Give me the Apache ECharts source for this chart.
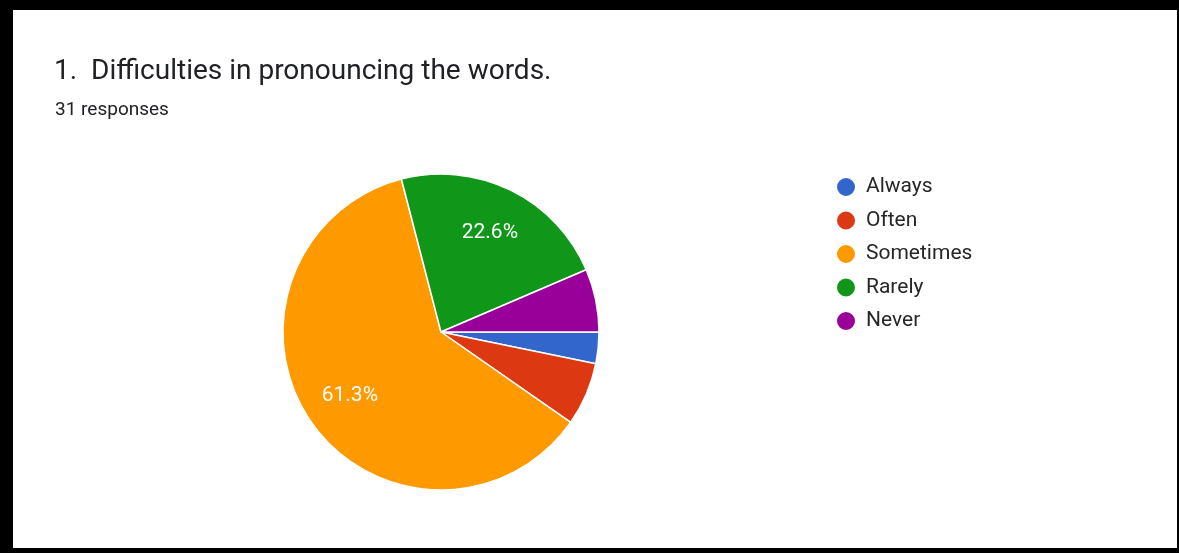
<!DOCTYPE html>
<html>
<head>
<meta charset="utf-8">
<script src="https://cdn.jsdelivr.net/npm/echarts@6/dist/echarts.min.js"></script>
<style>
  html, body { margin: 0; padding: 0; background: #ffffff; }
  #chart { width: 1179px; height: 553px; }
</style>
</head>
<body>
<div id="chart"></div>
<script>
// Survey answers for question 1
const questionTitle = '1.  Difficulties in pronouncing the words.';
const responseNote = '31 responses';
const categories = ['Always', 'Often', 'Sometimes', 'Rarely', 'Never'];
const counts = [1, 2, 19, 7, 2];
const palette = ['#3366cc', '#dc3912', '#ff9900', '#109618', '#990099'];

const pieData = categories.map((name, i) => ({ name, value: counts[i] }));
const fontFamily = 'Roboto, "Noto Sans", Arial, sans-serif';

const chart = echarts.init(document.getElementById('chart'), null, { renderer: 'canvas' });

chart.setOption({
  backgroundColor: '#ffffff',
  color: palette,
  animation: false,
  graphic: [
    // black frame around the card
    { type: 'rect', shape: { x: 0, y: 0, width: 1179, height: 10 }, style: { fill: '#000' }, silent: true },
    { type: 'rect', shape: { x: 0, y: 0, width: 13, height: 553 }, style: { fill: '#000' }, silent: true },
    { type: 'rect', shape: { x: 1177, y: 0, width: 2, height: 553 }, style: { fill: '#000' }, silent: true },
    { type: 'rect', shape: { x: 0, y: 548, width: 1179, height: 5 }, style: { fill: '#000' }, silent: true }
  ],
  title: [
    {
      text: questionTitle,
      left: 49,
      top: 53,
      textStyle: { fontFamily, fontSize: 28, fontWeight: 'normal', color: '#202124' }
    },
    {
      text: responseNote,
      left: 50,
      top: 96,
      textStyle: { fontFamily, fontSize: 19, fontWeight: 'normal', color: '#202124' }
    }
  ],
  legend: {
    orient: 'vertical',
    left: 830,
    top: 171,
    icon: 'circle',
    itemWidth: 20,
    itemHeight: 20,
    itemGap: 11.5,
    textStyle: { fontFamily, fontSize: 21, color: '#262626', padding: [0, 0, 0, 5] },
    data: categories
  },
  series: [
    {
      type: 'pie',
      center: [441, 332],
      radius: [0, 158],
      startAngle: 0,
      clockwise: true,
      percentPrecision: 1,
      itemStyle: { borderColor: '#ffffff', borderWidth: 1.5 },
      label: { show: false },
      labelLine: { show: false },
      emphasis: { disabled: true },
      data: pieData
    },
    {
      // ring used only to place the percentage labels further out from the centre
      type: 'pie',
      center: [441, 332],
      radius: [58, 158],
      startAngle: 0,
      clockwise: true,
      percentPrecision: 1,
      silent: true,
      legendHoverLink: false,
      itemStyle: { color: 'transparent', borderWidth: 0 },
      label: {
        show: true,
        position: 'inside',
        fontFamily,
        fontSize: 21,
        color: '#ffffff',
        formatter: p => (p.percent >= 10 ? p.percent.toFixed(1) + '%' : '')
      },
      labelLine: { show: false },
      emphasis: { disabled: true },
      data: pieData
    }
  ]
});
</script>
</body>
</html>
